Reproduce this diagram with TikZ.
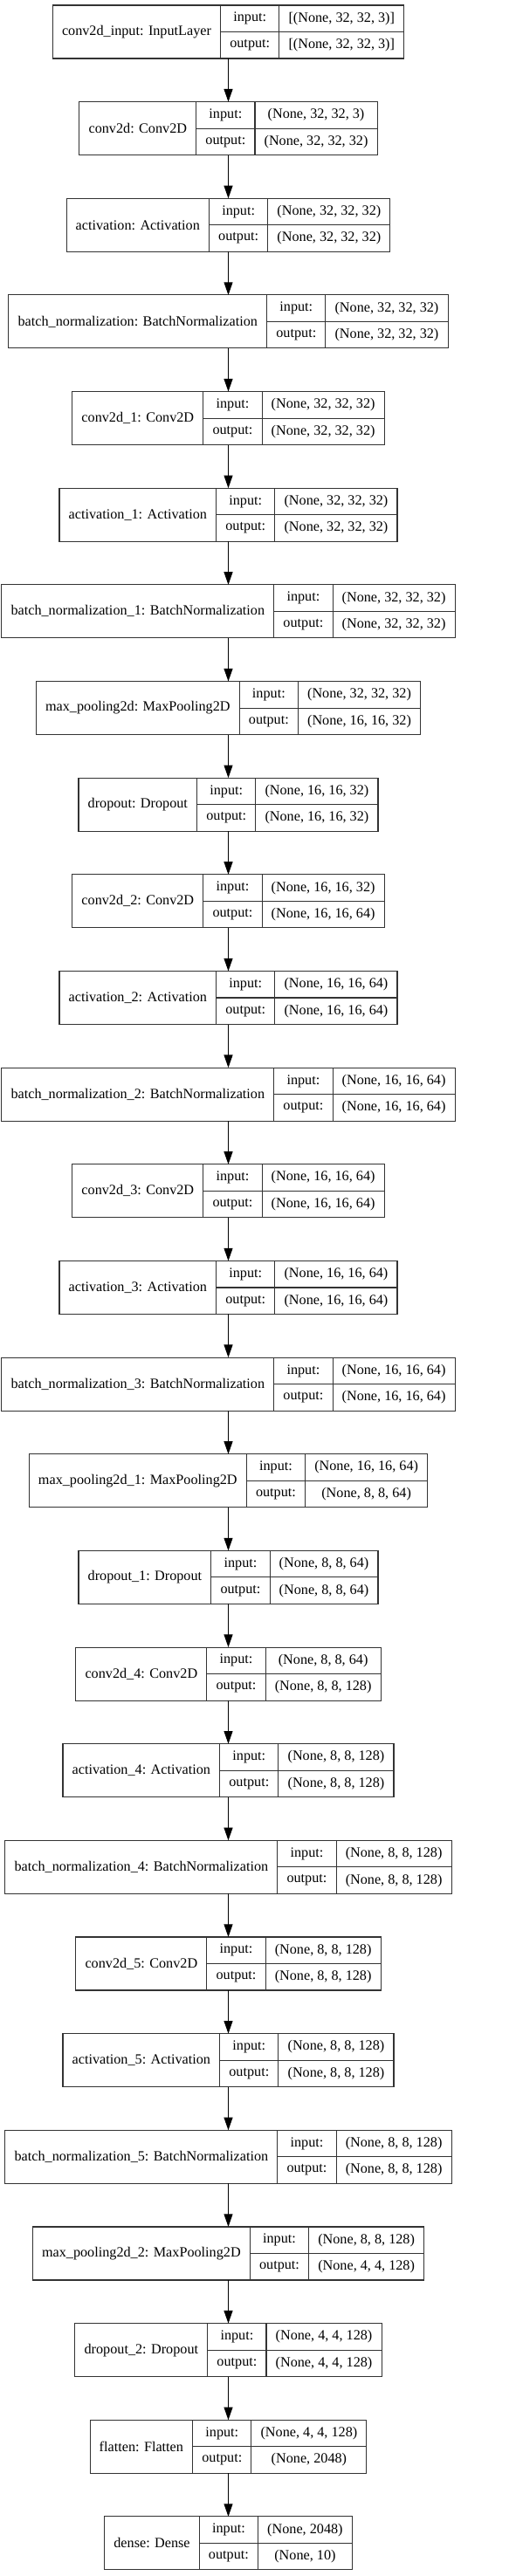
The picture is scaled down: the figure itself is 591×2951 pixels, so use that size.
\documentclass[tikz,border=0pt]{standalone}
\usepackage{fontspec}
\setmainfont{Liberation Serif}
\usetikzlibrary{arrows.meta,positioning}
\font\lfont="Liberation Serif" at 12.15pt
\newlength\wname \newlength\wval \newlength\wtmp \newlength\wlab \newlength\wall
\tikzset{cell/.style={draw=black!80,line width=0.8pt,inner sep=0pt,outer sep=0pt,
    minimum height=22.875pt,font=\lfont},
  shell/.style={inner sep=0pt,outer sep=0pt,minimum height=45.75pt}}
% one keras layer: name, row, label, input shape, output shape
\newcommand{\layer}[5]{%
  \settowidth\wname{\lfont #3}\addtolength\wname{16pt}%
  \settowidth\wlab{\lfont output:}\addtolength\wlab{16pt}%
  \settowidth\wval{\lfont #4}\settowidth\wtmp{\lfont #5}%
  \ifdim\wtmp>\wval \wval=\wtmp\fi \addtolength\wval{16pt}%
  \wall=\wname \addtolength\wall{\wlab}\addtolength\wall{\wval}%
  \node (#1) [shell,minimum width=\wall] at (261.5,36.5+#2*110.65) {};
  \node (#1n) [cell,minimum width=\wname,minimum height=45.75pt,anchor=north west] at (#1.north west) {#3};
  \node (#1il) [cell,minimum width=\wlab,anchor=north west] at (#1n.north east) {input:};
  \node (#1iv) [cell,minimum width=\wval,anchor=north west] at (#1il.north east) {#4};
  \node (#1ol) [cell,minimum width=\wlab,anchor=north west] at (#1il.south west) {output:};
  \node (#1ov) [cell,minimum width=\wval,anchor=north west] at (#1ol.north east) {#5};
}

\begin{document}
\begin{tikzpicture}[x=0.75pt,y=-0.75pt]
\useasboundingbox (0,0) rectangle (591,2951);
\layer{l0}{0}{conv2d\_input: InputLayer}{[(None, 32, 32, 3)]}{[(None, 32, 32, 3)]}
\layer{l1}{1}{conv2d: Conv2D}{(None, 32, 32, 3)}{(None, 32, 32, 32)}
\layer{l2}{2}{activation: Activation}{(None, 32, 32, 32)}{(None, 32, 32, 32)}
\layer{l3}{3}{batch\_normalization: BatchNormalization}{(None, 32, 32, 32)}{(None, 32, 32, 32)}
\layer{l4}{4}{conv2d\_1: Conv2D}{(None, 32, 32, 32)}{(None, 32, 32, 32)}
\layer{l5}{5}{activation\_1: Activation}{(None, 32, 32, 32)}{(None, 32, 32, 32)}
\layer{l6}{6}{batch\_normalization\_1: BatchNormalization}{(None, 32, 32, 32)}{(None, 32, 32, 32)}
\layer{l7}{7}{max\_pooling2d: MaxPooling2D}{(None, 32, 32, 32)}{(None, 16, 16, 32)}
\layer{l8}{8}{dropout: Dropout}{(None, 16, 16, 32)}{(None, 16, 16, 32)}
\layer{l9}{9}{conv2d\_2: Conv2D}{(None, 16, 16, 32)}{(None, 16, 16, 64)}
\layer{l10}{10}{activation\_2: Activation}{(None, 16, 16, 64)}{(None, 16, 16, 64)}
\layer{l11}{11}{batch\_normalization\_2: BatchNormalization}{(None, 16, 16, 64)}{(None, 16, 16, 64)}
\layer{l12}{12}{conv2d\_3: Conv2D}{(None, 16, 16, 64)}{(None, 16, 16, 64)}
\layer{l13}{13}{activation\_3: Activation}{(None, 16, 16, 64)}{(None, 16, 16, 64)}
\layer{l14}{14}{batch\_normalization\_3: BatchNormalization}{(None, 16, 16, 64)}{(None, 16, 16, 64)}
\layer{l15}{15}{max\_pooling2d\_1: MaxPooling2D}{(None, 16, 16, 64)}{(None, 8, 8, 64)}
\layer{l16}{16}{dropout\_1: Dropout}{(None, 8, 8, 64)}{(None, 8, 8, 64)}
\layer{l17}{17}{conv2d\_4: Conv2D}{(None, 8, 8, 64)}{(None, 8, 8, 128)}
\layer{l18}{18}{activation\_4: Activation}{(None, 8, 8, 128)}{(None, 8, 8, 128)}
\layer{l19}{19}{batch\_normalization\_4: BatchNormalization}{(None, 8, 8, 128)}{(None, 8, 8, 128)}
\layer{l20}{20}{conv2d\_5: Conv2D}{(None, 8, 8, 128)}{(None, 8, 8, 128)}
\layer{l21}{21}{activation\_5: Activation}{(None, 8, 8, 128)}{(None, 8, 8, 128)}
\layer{l22}{22}{batch\_normalization\_5: BatchNormalization}{(None, 8, 8, 128)}{(None, 8, 8, 128)}
\layer{l23}{23}{max\_pooling2d\_2: MaxPooling2D}{(None, 8, 8, 128)}{(None, 4, 4, 128)}
\layer{l24}{24}{dropout\_2: Dropout}{(None, 4, 4, 128)}{(None, 4, 4, 128)}
\layer{l25}{25}{flatten: Flatten}{(None, 4, 4, 128)}{(None, 2048)}
\layer{l26}{26}{dense: Dense}{(None, 2048)}{(None, 10)}
%
\path[-{Triangle[length=11pt,width=7.5pt]},line width=0.8pt]
  (l0) edge (l1) (l1) edge (l2) (l2) edge (l3) (l3) edge (l4)
  (l4) edge (l5) (l5) edge (l6) (l6) edge (l7) (l7) edge (l8)
  (l8) edge (l9) (l9) edge (l10) (l10) edge (l11) (l11) edge (l12)
  (l12) edge (l13) (l13) edge (l14) (l14) edge (l15) (l15) edge (l16)
  (l16) edge (l17) (l17) edge (l18) (l18) edge (l19) (l19) edge (l20)
  (l20) edge (l21) (l21) edge (l22) (l22) edge (l23) (l23) edge (l24)
  (l24) edge (l25) (l25) edge (l26);
\end{tikzpicture}
\end{document}
